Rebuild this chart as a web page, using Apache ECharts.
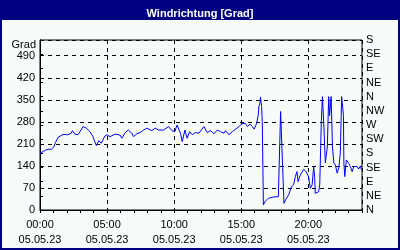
<!DOCTYPE html>
<html>
<head>
<meta charset="utf-8">
<script src="https://cdn.jsdelivr.net/npm/echarts@6/dist/echarts.min.js"></script>
<style>
html,body{margin:0;padding:0;background:#f8fcf8;}
#c{width:400px;height:250px;}
</style>
</head>
<body>
<div id="c"></div>
<script>
var times = ["00:00","00:21","00:36","00:51","01:01","01:09","01:21","01:43","02:05","02:20","02:25","02:35","02:50","03:13","03:27","03:43","03:57","04:05","04:12","04:23","04:34","04:50","04:59","05:13","05:36","05:58","06:06","06:21","06:35","06:51","06:58","07:13","07:28","07:43","07:58","08:20","08:35","08:50","09:12","09:35","09:50","10:03","10:13","10:28","10:36","10:48","10:58","11:09","11:21","11:35","11:51","12:13","12:28","12:43","12:58","13:13","13:27","13:43","13:50","14:05","14:20","14:35","14:50","15:01","15:17","15:28","15:39","15:49","15:58","16:09","16:16","16:19","16:24","16:26","16:31","16:34","16:39","16:46","17:01","17:16","17:31","17:46","17:56","18:04","18:11","18:18","18:32","18:44","18:54","19:02","19:09","19:14","19:24","19:39","19:50","20:01","20:09","20:17","20:24","20:28","20:31","20:46","20:51","20:58","21:03","21:09","21:16","21:25","21:31","21:35","21:42","21:48","21:54","22:01","22:09","22:16","22:23","22:29","22:35","22:37","22:39","22:43","22:50","23:01","23:08","23:16","23:23","23:31","23:38","23:45","23:53","23:57"];
var degrees = [180,189,193,193,199,214,231,240,239,244,252,241,239,265,260,249,233,217,205,220,212,235,239,233,241,238,228,246,254,244,233,242,246,254,260,252,260,254,254,265,252,249,270,244,217,254,228,249,239,246,244,265,246,252,242,254,249,244,252,239,249,257,265,273,276,265,273,265,257,276,302,329,340,359,329,281,16,26,37,40,42,42,313,307,21,32,48,74,80,106,122,90,111,129,122,106,69,80,138,106,53,58,80,281,360,276,150,200,360,300,360,200,150,143,117,133,180,360,360,300,148,106,159,148,138,122,138,133,138,130,140,128];
var xTickLabels = ["00:00","05:00","10:00","15:00","20:00"];
var dateLabel = "05.05.23";
var yTickValues = [0,70,140,210,280,350,420,490];
var compass = ["N","NE","E","SE","S","SW","W","NW","N","NE","E","SE","S"];

var points = times.map(function(t,i){
  var p = t.split(":");
  return [parseInt(p[0],10) + parseInt(p[1],10)/60, degrees[i]];
});

var font = "Liberation Sans";
var chart = echarts.init(document.getElementById('c'), null, {renderer:'canvas'});
chart.setOption({
  animation:false,
  backgroundColor:'#f8fcf8',
  title:{text:'Windrichtung [Grad]', left:'center', top:3,
    textStyle:{color:'#ffffff', fontSize:11, fontWeight:'bold', fontFamily:font}},
  graphic:[
    {type:'rect', z:-1, shape:{x:0,y:0,width:400,height:20}, style:{fill:'#000080'}},
    {type:'rect', z:-1, shape:{x:1,y:1,width:398,height:248}, style:{fill:'none', stroke:'#000080', lineWidth:2}},
    {type:'text', x:36, y:45, style:{text:'Grad', fill:'#000', font:'11px "Liberation Sans"', textAlign:'right', textVerticalAlign:'middle'}}
  ],
  grid:{left:40, right:38, top:40, bottom:40, show:true, borderColor:'#000', borderWidth:1, backgroundColor:'transparent'},
  xAxis:[{
    type:'value', min:0, max:24, interval:5,
    axisLine:{show:true, lineStyle:{color:'#000'}},
    axisTick:{show:false},
    splitLine:{show:true, lineStyle:{color:'#000', type:[4,4], width:1}},
    axisLabel:{color:'#000', fontSize:11, fontFamily:font, lineHeight:15, margin:7,
      formatter:function(v){ var i = Math.round(v/5); return (v%5===0 && xTickLabels[i]) ? xTickLabels[i] + '\n' + dateLabel : ''; }}
  },{
    type:'value', min:0, max:24, interval:1, position:'bottom',
    axisLine:{show:false}, axisLabel:{show:false}, splitLine:{show:false},
    axisTick:{show:true, length:3, lineStyle:{color:'#000'}}
  }],
  yAxis:[{
    type:'value', min:0, max:540, interval:70,
    axisLine:{show:true, lineStyle:{color:'#000'}},
    axisTick:{show:false},
    splitLine:{show:true, lineStyle:{color:'#000', type:[4,4], width:1}},
    axisLabel:{color:'#000', fontSize:11, fontFamily:font, margin:5,
      formatter:function(v){ return yTickValues.indexOf(v) >= 0 ? String(v) : ''; }}
  },{
    type:'value', min:0, max:540, interval:45, position:'right',
    axisLine:{show:true, lineStyle:{color:'#000'}},
    axisTick:{show:true, length:3, inside:false, lineStyle:{color:'#000'}},
    splitLine:{show:false},
    axisLabel:{color:'#000', fontSize:11, fontFamily:font, margin:4,
      formatter:function(v){ return compass[Math.round(v/45)] || ''; }}
  }],
  series:[{
    type:'line', data:points, xAxisIndex:0, yAxisIndex:0,
    showSymbol:false, symbol:'none',
    lineStyle:{color:'#0000ff', width:1}
  }]
});
</script>
</body>
</html>
